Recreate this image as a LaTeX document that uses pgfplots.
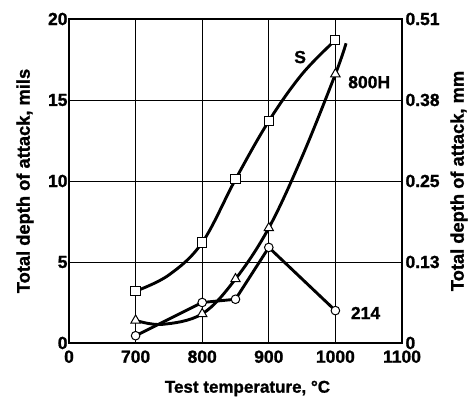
\documentclass[border=0pt]{standalone}
\usepackage{pgfplots}
\pgfplotsset{compat=1.18}
\usepackage{fontspec}
\setmainfont{Liberation Sans}[FakeBold=1.2]
\begin{document}
\begin{tikzpicture}
\useasboundingbox (-69bp,-55bp) rectangle (402bp,343bp);
\pgfplotsset{
  common/.style={
    at={(0,0)}, anchor=south west,
    scale only axis, width=333bp, height=324bp,
    xmin=600, xmax=1100, ymin=0, ymax=20,
    major tick length=0pt,
    tick label style={font=\fontsize{17.5bp}{20bp}\selectfont\bfseries},
    label style={font=\fontsize{18.3bp}{21bp}\selectfont\bfseries},
    /pgf/number format/assume math mode=true,
    axis line style={line width=1.8bp},
  }
}
\begin{axis}[common,
  xtick={600,700,800,900,1000,1100},
  xticklabels={0,700,800,900,1000,1100},
  ytick={0,5,10,15,20},
  grid=major, grid style={black, line width=0.9bp},
  xticklabel style={yshift=-4bp},
  yticklabel style={xshift=2bp},
  xlabel={Test temperature, °C},
  ylabel={Total depth of attack, mils},
  xlabel style={font=\fontsize{17bp}{20bp}\selectfont\bfseries, at={([xshift=12bp,yshift=-45.5bp]axis description cs:0.5,0)}, anchor=center},
  ylabel style={at={([xshift=-44bp]axis description cs:0,0.5)}, anchor=center},
]
% S
\addplot[black, line width=2.9bp, smooth, tension=0.6, mark=square*, mark size=4.6bp,
  mark indices={1,3,4,5,7},
  mark options={fill=white, line width=1bp, solid}]
  coordinates {(700,3.2) (750,4.2) (800,6.2) (850,10.1) (900,13.7) (950,16.6) (1000,18.7)};
% 800H
\addplot[black, line width=2.9bp, smooth, tension=0.6, mark=triangle*, mark size=5.4bp,
  mark indices={1,3,4,5,7},
  mark options={fill=white, line width=1bp, solid}]
  coordinates {(700,1.4) (740,1.15) (800,1.8) (850,3.95) (900,7.1) (950,11.5) (1000,16.6) (1016,18.5)};
% 214
\addplot[black, line width=2.9bp, mark=*, mark size=4.3bp,
  mark options={fill=white, line width=1bp, solid}]
  coordinates {(700,0.45) (800,2.5) (850,2.7) (900,5.9) (1000,2.0)};
\node[font=\fontsize{17.5bp}{20bp}\selectfont\bfseries] at (axis cs:947,17.65) {S};
\node[font=\fontsize{17.5bp}{20bp}\selectfont\bfseries, anchor=west, inner sep=0pt] at (axis cs:1019,16.1) {800H};
\node[font=\fontsize{17.5bp}{20bp}\selectfont\bfseries, anchor=west, inner sep=0pt] at (axis cs:1023,1.85) {214};
\end{axis}
\begin{axis}[common,
  hide x axis,
  axis y line*=right,
  ytick={0,5,10,15,20},
  yticklabels={0,0.13,0.25,0.38,0.51},
  ylabel={Total depth of attack, mm},
  ylabel style={at={([xshift=57bp]axis description cs:1,0.5)}, anchor=center},
]
\end{axis}
\end{tikzpicture}
\end{document}
